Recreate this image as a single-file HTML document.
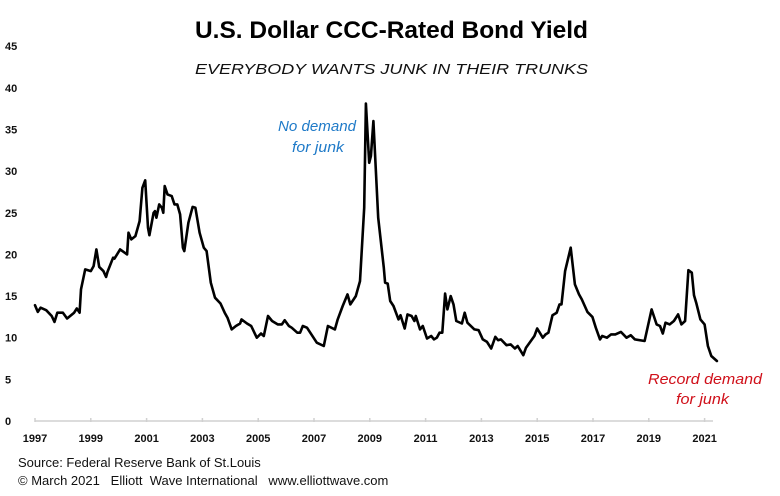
<!DOCTYPE html>
<html><head><meta charset="utf-8">
<style>
html,body{margin:0;padding:0;background:#fff;}
svg{display:block;font-family:"Liberation Sans",sans-serif;}
</style></head>
<body>
<svg id="chart" width="780" height="496" viewBox="0 0 780 496" xmlns="http://www.w3.org/2000/svg">
<rect width="780" height="496" fill="#fff"/>
<text x="195" y="38" font-size="24" font-weight="bold" textLength="393" lengthAdjust="spacingAndGlyphs" fill="#000">U.S. Dollar CCC-Rated Bond Yield</text>
<text x="195" y="74" font-size="15" font-style="italic" textLength="393" lengthAdjust="spacingAndGlyphs" fill="#111">EVERYBODY WANTS JUNK IN THEIR TRUNKS</text>
<g id="yaxis"></g>
<g id="xaxis"></g>
<path id="line" fill="none" stroke="#000" stroke-width="2.6" stroke-linejoin="round" stroke-linecap="round"/>
<g fill="#1f7ac8" font-style="italic" font-size="15">
<text x="278" y="131" textLength="78" lengthAdjust="spacingAndGlyphs">No demand</text>
<text x="292" y="152" textLength="52" lengthAdjust="spacingAndGlyphs">for junk</text>
</g>
<g fill="#d0101a" font-style="italic" font-size="15">
<text x="648" y="384" textLength="114" lengthAdjust="spacingAndGlyphs">Record demand</text>
<text x="676" y="404" textLength="53" lengthAdjust="spacingAndGlyphs">for junk</text>
</g>
<text x="18" y="467" font-size="13" fill="#111">Source: Federal Reserve Bank of St.Louis</text>
<text x="18" y="485" font-size="13" fill="#111" xml:space="preserve">© March 2021   Elliott  Wave International   www.elliottwave.com</text>
</svg>
<script>
const years=[1997.0,1997.1,1997.2,1997.4,1997.6,1997.7,1997.8,1998.0,1998.15,1998.4,1998.5,1998.6,1998.65,1998.8,1999.0,1999.1,1999.2,1999.3,1999.45,1999.55,1999.6,1999.8,1999.85,2000.05,2000.3,2000.35,2000.45,2000.6,2000.75,2000.85,2000.95,2001.05,2001.1,2001.25,2001.3,2001.35,2001.45,2001.55,2001.6,2001.65,2001.75,2001.9,2002.0,2002.1,2002.2,2002.3,2002.35,2002.5,2002.65,2002.75,2002.9,2003.05,2003.15,2003.3,2003.45,2003.65,2003.8,2003.9,2004.05,2004.2,2004.35,2004.4,2004.6,2004.75,2004.95,2005.1,2005.2,2005.35,2005.5,2005.7,2005.85,2005.95,2006.1,2006.2,2006.4,2006.5,2006.6,2006.75,2007.1,2007.35,2007.5,2007.75,2007.85,2008.03,2008.2,2008.3,2008.5,2008.65,2008.8,2008.86,2008.98,2009.04,2009.13,2009.3,2009.5,2009.55,2009.64,2009.73,2009.85,2010.03,2010.1,2010.25,2010.35,2010.5,2010.6,2010.65,2010.8,2010.9,2011.05,2011.2,2011.3,2011.4,2011.5,2011.6,2011.7,2011.78,2011.9,2012.0,2012.1,2012.3,2012.4,2012.5,2012.75,2012.9,2013.05,2013.2,2013.35,2013.5,2013.6,2013.7,2013.9,2014.05,2014.2,2014.3,2014.5,2014.6,2014.75,2014.9,2015.0,2015.2,2015.3,2015.4,2015.55,2015.7,2015.8,2015.87,2016.0,2016.2,2016.35,2016.5,2016.6,2016.8,2016.98,2017.1,2017.25,2017.33,2017.5,2017.65,2017.8,2018.0,2018.2,2018.35,2018.5,2018.85,2019.1,2019.28,2019.4,2019.5,2019.6,2019.75,2019.9,2020.05,2020.17,2020.3,2020.42,2020.54,2020.62,2020.7,2020.85,2021.0,2021.12,2021.24,2021.44];
const yields=[13.9,13.1,13.6,13.3,12.6,11.9,13.0,13.0,12.3,13.0,13.5,13.0,15.8,18.2,18.0,18.6,20.6,18.5,18.0,17.3,17.9,19.6,19.5,20.6,20.0,22.6,21.8,22.2,24.0,28.0,28.9,23.2,22.3,25.0,25.2,24.4,26.0,25.6,25.0,28.2,27.2,27.0,26.0,26.0,24.8,20.8,20.4,23.8,25.7,25.6,22.6,20.8,20.4,16.6,14.8,14.1,13.0,12.4,11.0,11.4,11.7,12.2,11.7,11.4,10.0,10.5,10.2,12.6,12.0,11.6,11.6,12.1,11.4,11.2,10.6,10.6,11.4,11.2,9.4,9.0,11.4,11.0,12.2,13.8,15.2,14.0,15.0,16.8,25.6,38.1,31.0,31.8,36.0,24.4,18.4,16.6,16.5,14.4,13.8,12.2,12.7,11.1,12.8,12.6,12.0,12.6,11.0,11.4,9.9,10.2,9.8,10.0,10.6,10.6,15.3,13.4,15.0,14.0,12.0,11.7,13.0,11.8,11.0,10.9,9.8,9.5,8.7,10.1,9.7,9.8,9.1,9.2,8.7,9.0,7.9,8.8,9.5,10.2,11.1,10.0,10.4,10.6,12.7,13.0,14.0,14.0,18.0,20.8,16.4,15.2,14.6,13.1,12.5,11.2,9.8,10.2,10.0,10.4,10.4,10.7,10.0,10.3,9.8,9.6,13.4,11.6,11.4,10.5,11.8,11.6,12.0,12.8,11.6,12.0,18.1,17.8,15.1,14.2,12.2,11.6,9.0,7.8,7.2];
const yTicks=[0,5,10,15,20,25,30,35,40,45];
const xTicks=[1997,1999,2001,2003,2005,2007,2009,2011,2013,2015,2017,2019,2021];

const X=t=>35+27.9*(t-1997);
const Y=v=>421-8.33*v;
const NS="http://www.w3.org/2000/svg";
const ya=document.getElementById('yaxis'), xa=document.getElementById('xaxis');
yTicks.forEach(v=>{
  const t=document.createElementNS(NS,'text');
  
  
  t.setAttribute('x',5);t.setAttribute('y',Y(v)+4);
  t.setAttribute('font-size','11');t.setAttribute('font-weight','bold');t.setAttribute('fill','#111');
  t.textContent=v;ya.appendChild(t);
});
const ax=document.createElementNS(NS,'line');


ax.setAttribute('x1',35);ax.setAttribute('x2',713);ax.setAttribute('y1',Y(0));ax.setAttribute('y2',Y(0));
ax.setAttribute('stroke','#d0d0d0');ax.setAttribute('stroke-width','1.5');xa.appendChild(ax);
xTicks.forEach(yr=>{
  const m=document.createElementNS(NS,'line');
  
  
  m.setAttribute('x1',X(yr));m.setAttribute('x2',X(yr));m.setAttribute('y1',Y(0)-3);m.setAttribute('y2',Y(0)+1);
  m.setAttribute('stroke','#d0d0d0');m.setAttribute('stroke-width','1.5');xa.appendChild(m);
  const t=document.createElementNS(NS,'text');
  
  
  t.setAttribute('x',X(yr));t.setAttribute('y',442);t.setAttribute('text-anchor','middle');
  t.setAttribute('font-size','11');t.setAttribute('font-weight','bold');t.setAttribute('fill','#111');
  t.textContent=yr;xa.appendChild(t);
});
document.getElementById('line').setAttribute('d',years.map((t,i)=>(i?'L':'M')+X(t).toFixed(1)+' '+Y(yields[i]).toFixed(1)).join(' '));
</script>
</body></html>
